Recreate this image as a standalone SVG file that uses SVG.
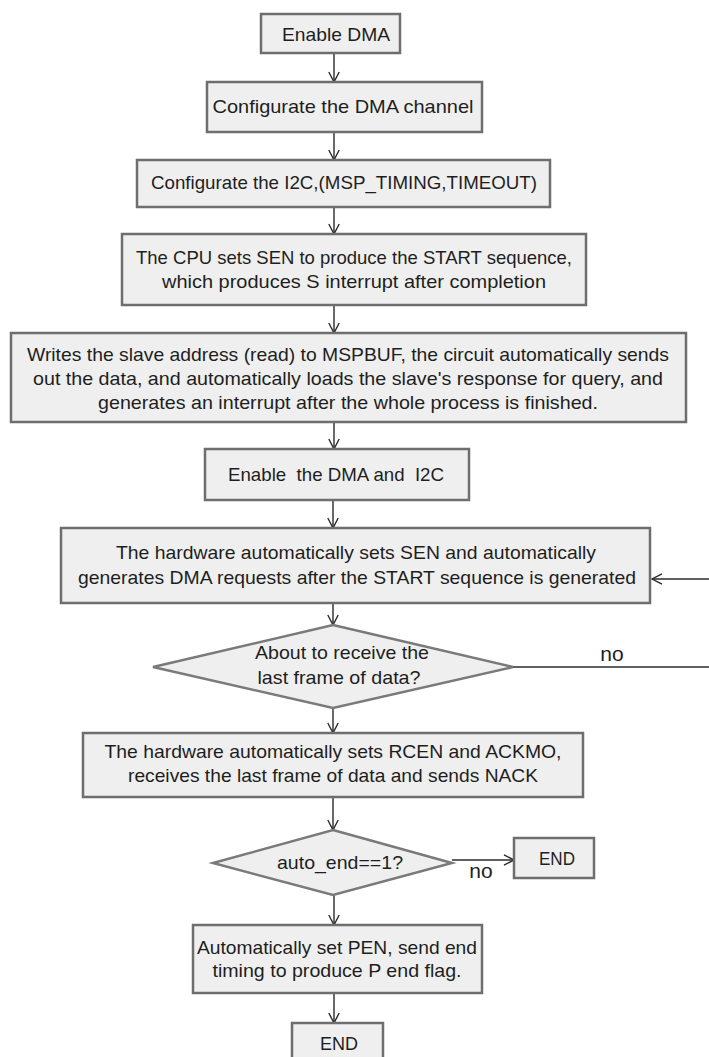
<svg xmlns="http://www.w3.org/2000/svg" width="709" height="1057" viewBox="0 0 709 1057">
  <style>
    .box { fill: #efefef; stroke: #6e6e6e; stroke-width: 2.5; }
    .dia { fill: #efefef; stroke: #7a7a7a; stroke-width: 2.5; stroke-linejoin: miter; }
    .t { font-family: "Liberation Sans", Arial, sans-serif; font-size: 19px; fill: #1e1e1e; text-anchor: middle; }
    .lbl { font-family: "Liberation Sans", Arial, sans-serif; font-size: 21px; fill: #1e1e1e; text-anchor: middle; }
    .wire { fill: none; stroke: #2a2a2a; stroke-width: 1.4; }
  </style>
  <defs>
    <marker id="arrow" viewBox="0 0 12 12" refX="11" refY="6" markerWidth="12" markerHeight="12" markerUnits="userSpaceOnUse" orient="auto">
      <path d="M1,0.8 L11,6 L1,11.2" fill="none" stroke="#2a2a2a" stroke-width="1.4"/>
    </marker>
  </defs>
  <rect width="709" height="1057" fill="#ffffff"/>

  <!-- connectors -->
  <g id="connectors" class="wire">
    <line x1="334" y1="53" x2="334" y2="82" marker-end="url(#arrow)"/>
    <line x1="334" y1="132" x2="334" y2="160" marker-end="url(#arrow)"/>
    <line x1="334" y1="207" x2="334" y2="234" marker-end="url(#arrow)"/>
    <line x1="334" y1="305" x2="334" y2="333" marker-end="url(#arrow)"/>
    <line x1="334" y1="422" x2="334" y2="449" marker-end="url(#arrow)"/>
    <line x1="333" y1="500" x2="333" y2="528" marker-end="url(#arrow)"/>
    <line x1="333" y1="603" x2="333" y2="625" marker-end="url(#arrow)"/>
    <line x1="333" y1="708" x2="333" y2="733" marker-end="url(#arrow)"/>
    <line x1="333" y1="797" x2="333" y2="830" marker-end="url(#arrow)"/>
    <line x1="334" y1="895" x2="334" y2="925" marker-end="url(#arrow)"/>
    <line x1="334" y1="993" x2="334" y2="1023" marker-end="url(#arrow)"/>
    <!-- "no" branch of the last-frame test loops back to the DMA request step -->
    <line x1="513" y1="667" x2="709" y2="667"/>
    <line x1="709" y1="579" x2="652" y2="579" marker-end="url(#arrow)"/>
    <!-- "no" branch of auto_end -->
    <line x1="452" y1="860" x2="514" y2="860" marker-end="url(#arrow)"/>
  </g>

  <g id="enable-dma">
    <rect class="box" x="261" y="14" width="139" height="39"/>
    <text class="t" x="336" y="41" textLength="108" lengthAdjust="spacingAndGlyphs">Enable DMA</text>
  </g>

  <g id="config-dma-channel">
    <rect class="box" x="207" y="82" width="275" height="50"/>
    <text class="t" x="343" y="113" textLength="261" lengthAdjust="spacingAndGlyphs">Configurate the DMA channel</text>
  </g>

  <g id="config-i2c">
    <rect class="box" x="137" y="160" width="413" height="47"/>
    <text class="t" x="344" y="189" textLength="386" lengthAdjust="spacingAndGlyphs">Configurate the I2C,(MSP_TIMING,TIMEOUT)</text>
  </g>

  <g id="cpu-sets-sen">
    <rect class="box" x="122" y="234" width="464" height="71"/>
    <text class="t" x="354" y="264" textLength="436" lengthAdjust="spacingAndGlyphs">The CPU sets SEN to produce the START sequence,</text>
    <text class="t" x="354" y="288" textLength="384" lengthAdjust="spacingAndGlyphs">which produces S interrupt after completion</text>
  </g>

  <g id="write-slave-address">
    <rect class="box" x="11" y="333" width="675" height="89"/>
    <text class="t" x="348" y="361" textLength="642" lengthAdjust="spacingAndGlyphs">Writes the slave address (read) to MSPBUF, the circuit automatically sends</text>
    <text class="t" x="348" y="385" textLength="630" lengthAdjust="spacingAndGlyphs">out the data, and automatically loads the slave's response for query, and</text>
    <text class="t" x="348" y="409" textLength="500" lengthAdjust="spacingAndGlyphs">generates an interrupt after the whole process is finished.</text>
  </g>

  <g id="enable-dma-i2c">
    <rect class="box" x="205" y="449" width="264" height="51"/>
    <text class="t" x="336" y="481" textLength="216" lengthAdjust="spacingAndGlyphs" xml:space="preserve">Enable  the DMA and  I2C</text>
  </g>

  <g id="hw-sets-sen">
    <rect class="box" x="61" y="528" width="589" height="75"/>
    <text class="t" x="356" y="559" textLength="480" lengthAdjust="spacingAndGlyphs">The hardware automatically sets SEN and automatically</text>
    <text class="t" x="357" y="584" textLength="558" lengthAdjust="spacingAndGlyphs">generates DMA requests after the START sequence is generated</text>
  </g>

  <g id="last-frame-test">
    <polygon class="dia" points="333,625 513,667 333,708 153,667"/>
    <text class="t" x="342" y="659" textLength="174" lengthAdjust="spacingAndGlyphs">About to receive the</text>
    <text class="t" x="339" y="684" textLength="163" lengthAdjust="spacingAndGlyphs">last frame of data?</text>
    <text class="lbl" x="612" y="661">no</text>
  </g>

  <g id="hw-sets-rcen">
    <rect class="box" x="83" y="733" width="500" height="64"/>
    <text class="t" x="333" y="758" textLength="457" lengthAdjust="spacingAndGlyphs">The hardware automatically sets RCEN and ACKMO,</text>
    <text class="t" x="333" y="782" textLength="410" lengthAdjust="spacingAndGlyphs">receives the last frame of data and sends NACK</text>
  </g>

  <g id="auto-end-test">
    <polygon class="dia" points="333,830 452,863 333,895 213,863"/>
    <text class="t" x="340" y="869" textLength="126" lengthAdjust="spacingAndGlyphs">auto_end==1?</text>
    <text class="lbl" x="481" y="878">no</text>
  </g>

  <g id="end-early">
    <rect class="box" x="514" y="838" width="80" height="40"/>
    <text class="t" x="557" y="865" textLength="36" lengthAdjust="spacingAndGlyphs">END</text>
  </g>

  <g id="set-pen">
    <rect class="box" x="193" y="925" width="289" height="68"/>
    <text class="t" x="337" y="954" textLength="280" lengthAdjust="spacingAndGlyphs">Automatically set PEN, send end</text>
    <text class="t" x="337" y="977" textLength="249" lengthAdjust="spacingAndGlyphs">timing to produce P end flag.</text>
  </g>

  <g id="end-final">
    <rect class="box" x="292" y="1023" width="91" height="40"/>
    <text class="t" x="339" y="1050" textLength="38" lengthAdjust="spacingAndGlyphs">END</text>
  </g>
</svg>
